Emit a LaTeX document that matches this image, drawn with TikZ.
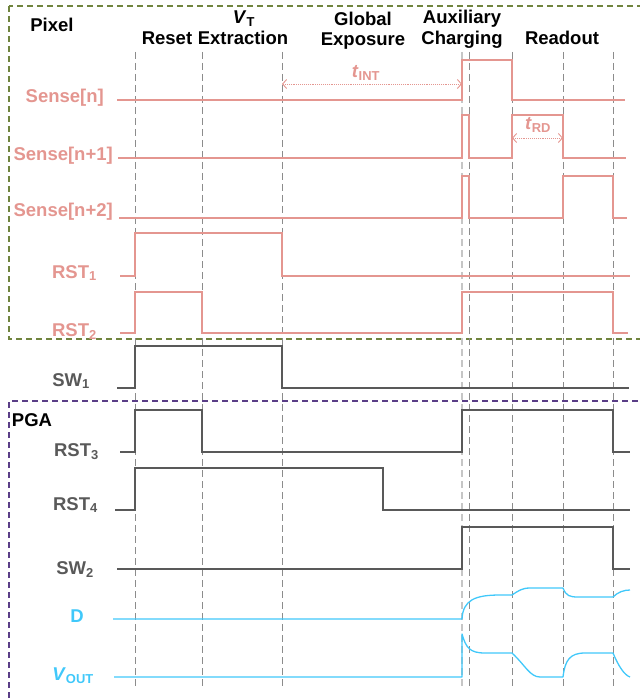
\documentclass[tikz,border=0pt]{standalone}
\usepackage{fontspec}
\setmainfont{Liberation Sans}
\usetikzlibrary{arrows.meta}
\definecolor{pixred}{RGB}{228,150,144}
\definecolor{pgagray}{RGB}{89,89,89}
\definecolor{outblue}{RGB}{64,200,250}
\definecolor{boxgreen}{RGB}{112,132,62}
\definecolor{boxpurple}{RGB}{90,62,135}
\tikzset{
  lbl/.style={anchor=base east,inner sep=0pt,font=\fontsize{18.5}{20}\selectfont\bfseries},
  head/.style={anchor=base,inner sep=0pt,font=\fontsize{18.5}{20}\selectfont\bfseries},
  sig/.style={line width=1.3pt,line join=miter},
  guide/.style={gray!90,line width=0.9pt,dash pattern=on 7pt off 4pt},
  tspan/.style={pixred,densely dotted,line width=0.9pt,<->,>={Straight Barb[length=4pt,width=9pt]}},
}
\begin{document}
\begin{tikzpicture}[x=1pt,y=-1pt]
  \useasboundingbox (0,0) rectangle (639,700);
  \def\xA{135} \def\xB{202} \def\xC{282} \def\xD{462}
  \def\xE{469} \def\xF{512} \def\xG{563} \def\xH{613}
  \def\ytop{52} \def\ybot{689}
  % block frames
  \draw[boxgreen,line width=1.2pt,dash pattern=on 6pt off 4pt] (9,6) rectangle (648,339);
  \draw[boxpurple,line width=1.2pt,dash pattern=on 6pt off 4pt] (648,401) -- (9,401) -- (9,708);
  % phase boundaries
  \foreach \xx in {\xA,\xB,\xC,\xE,\xF,\xG,\xH}
    \draw[guide] (\xx,\ytop) -- (\xx,\ybot);
  \draw[guide,gray!45,line width=2pt] (\xD,\ytop) -- (\xD,\ybot);
  % headings
  \node[head] (pixel) at (52,32) {Pixel};
  \node[head] (pga) at (32,426) {PGA};
  \node[head] (reset) at (167,45) {Reset};
  \node[head] (extract) at (243,45) {Extraction};
  \node[head] (vt) at (244,24) {\textit{V}\textsubscript{T}};
  \node[head] (global) at (363,26) {Global};
  \node[head] (expo) at (363,46) {Exposure};
  \node[head] (aux) at (462,24) {Auxiliary};
  \node[head] (charge) at (462,45) {Charging};
  \node[head] (readout) at (562,45) {Readout};
  % signal names
  \node[lbl,pixred] (sn0) at (104,103) {Sense[n]};
  \node[lbl,pixred] (sn1) at (113,161) {Sense[n+1]};
  \node[lbl,pixred] (sn2) at (113,217) {Sense[n+2]};
  \node[lbl,pixred] (rst1) at (97,278) {RST\textsubscript{1}};
  \node[lbl,pixred] (rst2) at (97,336) {RST\textsubscript{2}};
  \node[lbl,pgagray] (sw1) at (90,386) {SW\textsubscript{1}};
  \node[lbl,pgagray] (rst3) at (99,456) {RST\textsubscript{3}};
  \node[lbl,pgagray] (rst4) at (98,510) {RST\textsubscript{4}};
  \node[lbl,pgagray] (sw2) at (94,574) {SW\textsubscript{2}};
  \node[lbl,outblue] (dnode) at (84,622) {D};
  \node[lbl,outblue] (vout) at (94,680) {\textit{V}\textsubscript{OUT}};
  % waveforms
  \draw[sig,pixred] (117,100) -- (\xD,100) -- (\xD,60) -- (\xF,60) -- (\xF,100) -- (625,100);
  \draw[sig,pixred] (118,158) -- (\xD,158) -- (\xD,115) -- (\xE,115) -- (\xE,158) -- (\xF,158)
    -- (\xF,115) -- (\xG,115) -- (\xG,158) -- (626,158);
  \draw[sig,pixred] (119,218) -- (\xD,218) -- (\xD,176) -- (\xE,176) -- (\xE,218) -- (\xG,218)
    -- (\xG,176) -- (\xH,176) -- (\xH,218) -- (627,218);
  \draw[sig,pixred] (120,276) -- (\xA,276) -- (\xA,233) -- (\xC,233) -- (\xC,276) -- (630,276);
  \draw[sig,pixred] (120,333) -- (\xA,333) -- (\xA,292) -- (\xB,292) -- (\xB,333) -- (\xD,333)
    -- (\xD,292) -- (\xH,292) -- (\xH,333) -- (628,333);
  \draw[sig,pgagray] (117,388) -- (\xA,388) -- (\xA,346) -- (\xC,346) -- (\xC,388) -- (629,388);
  \draw[sig,pgagray] (120,452) -- (\xA,452) -- (\xA,410) -- (\xB,410) -- (\xB,452) -- (\xD,452)
    -- (\xD,410) -- (\xH,410) -- (\xH,452) -- (630,452);
  \draw[sig,pgagray] (115,510) -- (\xA,510) -- (\xA,468) -- (383,468) -- (383,510) -- (630,510);
  \draw[sig,pgagray] (117,569) -- (\xD,569) -- (\xD,527) -- (\xH,527) -- (\xH,569) -- (630,569);
  \draw[sig,outblue,line join=round] (113,619) -- (\xD,619) .. controls (463,600) and (475,595) .. (500,595)
    -- (\xF,595) .. controls (518,591) and (522,588) .. (530,588) -- (\xG,588)
    .. controls (566,596) and (570,597) .. (578,597) -- (\xH,597)
    .. controls (618,592) and (624,590) .. (630,590);
  \draw[sig,outblue,line join=round] (114,677) -- (\xD,677) -- (\xD,634) .. controls (466,648) and (470,653) .. (485,653)
    -- (\xF,653) .. controls (525,665) and (530,677) .. (540,677) -- (\xG,677)
    .. controls (565,660) and (570,653) .. (585,653) -- (\xH,653)
    .. controls (618,665) and (624,675) .. (630,677);
  % time spans
  \coordinate (intL) at (\xC,84); \coordinate (intR) at (\xD,84);
  \draw[tspan] (intL) -- (intR);
  \node[head,pixred] (tint) at (366,78) {\textit{t}\textsubscript{INT}};
  \coordinate (rdL) at (\xF,138); \coordinate (rdR) at (\xG,138);
  \draw[tspan] (rdL) -- (rdR);
  \node[head,pixred] (trd) at (538,130) {\textit{t}\textsubscript{RD}};
\end{tikzpicture}
\end{document}
